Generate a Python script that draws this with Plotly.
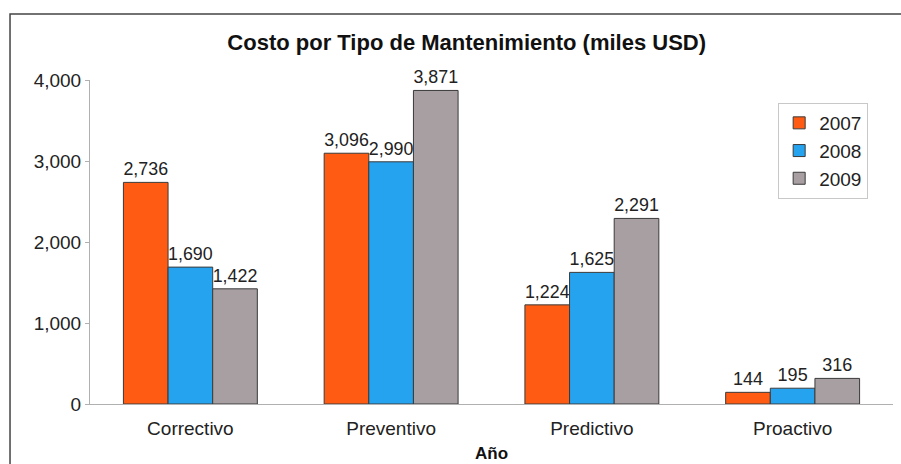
import plotly.graph_objects as go

categories = ["Correctivo", "Preventivo", "Predictivo", "Proactivo"]
years = ["2007", "2008", "2009"]
v2007 = [2736, 3096, 1224, 144]
v2008 = [1690, 2990, 1625, 195]
v2009 = [1422, 3871, 2291, 316]
colors = ["#FF5B12", "#26A3EF", "#A89FA3"]

fig = go.Figure()
for name, vals, col in zip(years, [v2007, v2008, v2009], colors):
    fig.add_trace(go.Bar(
        x=categories, y=vals, name=name,
        marker=dict(color=col, line=dict(color="#3a3a3a", width=1)),
        text=[f"{v:,}" for v in vals], textposition="outside",
        textfont=dict(family="Arial", size=18, color="#222"),
        cliponaxis=False,
    ))

fig.update_layout(
    width=901, height=464,
    margin=dict(l=90, r=8, t=80, b=60),
    paper_bgcolor="white", plot_bgcolor="white",
    barmode="group", bargap=0.333, bargroupgap=0,
    title=dict(text="<b>Costo por Tipo de Mantenimiento (miles USD)</b>",
               x=0.518, xanchor="center", y=0.909, yanchor="middle",
               font=dict(family="Arial", size=22, color="#111")),
    font=dict(family="Arial", size=19, color="#222"),
    legend=dict(x=0.857, y=0.929, xanchor="left", yanchor="top",
                bordercolor="#c8c8c8", borderwidth=1, bgcolor="white",
                font=dict(family="Arial", size=19, color="#222"),
                itemwidth=30, tracegroupgap=0),
    showlegend=True,
    xaxis=dict(showline=True, linecolor="#b0b0b0", linewidth=1,
               ticks="", ticklabelstandoff=7,
               tickfont=dict(family="Arial", size=19, color="#222")),
    yaxis=dict(range=[0, 4000], tickvals=[0, 1000, 2000, 3000, 4000],
               tickformat=",d", showgrid=False, zeroline=False,
               showline=True, linecolor="#b0b0b0", linewidth=1,
               ticks="outside", ticklen=4, tickcolor="#b0b0b0",
               tickfont=dict(family="Arial", size=19, color="#222")),
)
fig.add_annotation(text="<b>Año</b>", xref="paper", yref="paper",
                   x=0.5006, y=-0.152, xanchor="center", yanchor="middle",
                   showarrow=False, font=dict(family="Arial", size=17, color="#111"))
fig.add_shape(type="rect", xref="paper", yref="paper",
              x0=-0.0996, x1=1.02, y0=-0.25, y1=1.204,
              line=dict(color="#444", width=1.5))
fig.write_html("out.html")
